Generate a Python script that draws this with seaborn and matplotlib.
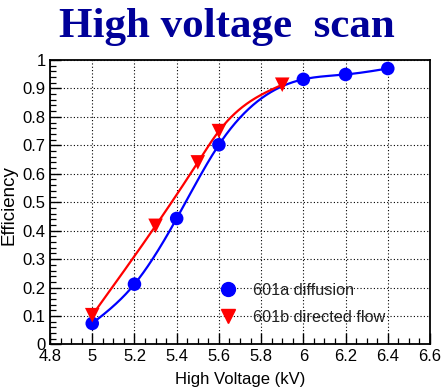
import numpy as np
import pandas as pd
import matplotlib
matplotlib.use("Agg")
import matplotlib.pyplot as plt
from matplotlib.lines import Line2D
from matplotlib.ticker import MultipleLocator
import seaborn as sns

# Efficiency vs high voltage for the two chamber configurations
diff_hv = [5.0, 5.2, 5.4, 5.6, 6.0, 6.2, 6.4]
diff_eff = [0.074, 0.212, 0.443, 0.702, 0.932, 0.949, 0.970]
flow_hv = [5.0, 5.3, 5.5, 5.6, 5.9]
flow_eff = [0.103, 0.417, 0.640, 0.750, 0.913]

labels = ["601a diffusion", "601b directed flow"]
colors = ["#0000ff", "#ff0000"]
markers = ["o", "v"]

title = "High voltage  scan"
xlabel = "High Voltage (kV)"
ylabel = "Efficiency"


def natural_spline(t, v, tt):
    """Evaluate a natural cubic spline through (t, v) at tt."""
    t = np.asarray(t, float)
    v = np.asarray(v, float)
    n = len(t)
    h = np.diff(t)
    A = np.zeros((n, n))
    r = np.zeros(n)
    A[0, 0] = A[-1, -1] = 1.0
    for i in range(1, n - 1):
        A[i, i - 1] = h[i - 1]
        A[i, i] = 2 * (h[i - 1] + h[i])
        A[i, i + 1] = h[i]
        r[i] = 3 * ((v[i + 1] - v[i]) / h[i] - (v[i] - v[i - 1]) / h[i - 1])
    c = np.linalg.solve(A, r)
    b = (np.diff(v) / h) - h * (2 * c[:-1] + c[1:]) / 3
    d = np.diff(c) / (3 * h)
    k = np.clip(np.searchsorted(t, tt, side="right") - 1, 0, n - 2)
    dt = tt - t[k]
    return v[k] + b[k] * dt + c[k] * dt ** 2 + d[k] * dt ** 3


def smooth(x, y, n=400):
    """Smooth curve y(x) through the points."""
    xx = np.linspace(x[0], x[-1], n)
    return xx, natural_spline(x, y, xx)


sns.set_theme(style="white")
plt.rcParams["font.family"] = ["Liberation Sans", "DejaVu Sans"]

fig = plt.figure(figsize=(4.43, 3.92), dpi=100)
ax = fig.add_axes([0.1129, 0.1212, 0.8578, 0.7258])

series = [(diff_hv, diff_eff), (flow_hv, flow_eff)]
for (hv, eff), lab, col, mk in zip(series, labels, colors, markers):
    sx, sy = smooth(hv, eff)
    ax.plot(sx, sy, color=col, lw=1.6, zorder=3)
    df = pd.DataFrame({"hv": hv, "eff": eff})
    sns.scatterplot(data=df, x="hv", y="eff", ax=ax, color=col, marker=mk,
                    s=95 if mk == "o" else 110, edgecolor="none", zorder=4,
                    legend=False)

ax.set_xlim(4.8, 6.6)
ax.set_ylim(0, 1)
xt = np.arange(4.8, 6.61, 0.2)
ax.set_xticks(xt)
ax.set_xticklabels([f"{v:g}" for v in np.round(xt, 1)])
yt = np.arange(0, 1.01, 0.1)
ax.set_yticks(yt)
ax.set_yticklabels([f"{v:g}" for v in np.round(yt, 1)])
ax.xaxis.set_minor_locator(MultipleLocator(0.05))
ax.yaxis.set_minor_locator(MultipleLocator(0.02))

ax.tick_params(which="major", direction="in", length=8, width=1.0,
               color="black", labelsize=12, labelcolor="black", pad=3,
               left=True, bottom=True, right=False, top=False)
ax.tick_params(which="minor", direction="in", length=4, width=0.9,
               color="black", left=True, bottom=True, right=False, top=False)

ax.grid(True, which="major", color="black", linestyle=(0, (1, 2)), lw=0.8)
for s in ax.spines.values():
    s.set_color("black")
    s.set_linewidth(1.3)

ax.set_xlabel(xlabel, fontsize=12, color="black", labelpad=6)
ax.set_ylabel(ylabel, fontsize=13.5, color="black")
ax.yaxis.set_label_coords(-0.085, 0.49)

handles = [Line2D([], [], linestyle="none", marker=m, color=c, markersize=10)
           for m, c in zip(markers, colors)]
leg = ax.legend(handles, labels, loc="upper left", bbox_to_anchor=(0.43, 0.24),
                frameon=False, fontsize=11.7, handletextpad=1.05,
                labelspacing=0.75, handlelength=1.0, borderaxespad=0)
for txt in leg.get_texts():
    txt.set_color("#222222")

fig.text(0.513, 0.93, title, ha="center", va="center", fontsize=31,
         fontweight="bold", family="Liberation Serif", color="#000099")

fig.savefig("out.png", dpi=100)
